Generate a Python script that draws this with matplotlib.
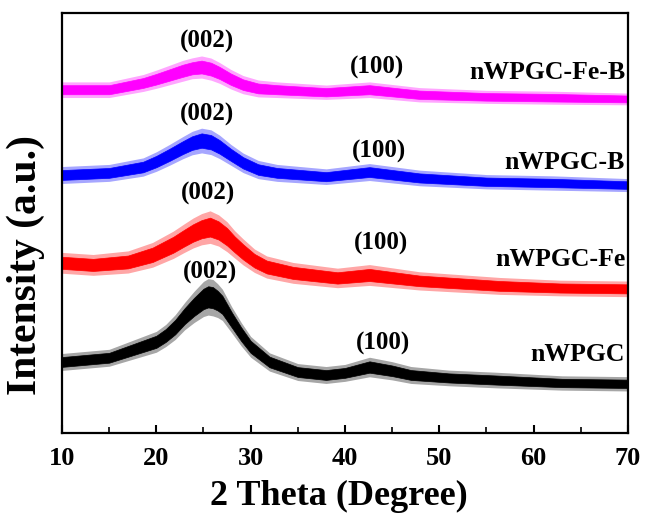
import matplotlib
matplotlib.use("Agg")
import matplotlib.pyplot as plt
import numpy as np

plt.rcParams['font.family'] = ['Liberation Serif', 'DejaVu Serif']
plt.rcParams['font.weight'] = 'bold'

# 2-theta positions (degree), intensities (a.u., offset-stacked) and noise half-widths
x_black = [10, 15, 20, 21, 22, 23, 24, 25, 25.5, 26, 26.5, 27, 28, 29, 30, 32, 35, 38, 40, 42.6, 45, 47, 51, 56, 63, 70]
y_black = [16.9, 17.9, 21.7, 23.2, 25.2, 27.8, 30.0, 31.9, 32.4, 32.2, 31.5, 30.5, 26.9, 23.5, 20.5, 16.9, 14.5, 13.8, 14.3, 15.7, 14.8, 13.8, 13.1, 12.6, 11.9, 11.7]
w_black = [1.3, 1.3, 1.6, 1.7, 1.9, 2.1, 2.4, 2.7, 2.8, 2.8, 2.6, 2.4, 2.0, 1.8, 1.6, 1.4, 1.3, 1.3, 1.3, 1.5, 1.4, 1.3, 1.2, 1.2, 1.1, 1.1]

x_red = [10, 13.3, 17, 19.6, 21.8, 22.9, 23.9, 24.8, 25.7, 26.6, 27.5, 28.3, 29.2, 30.4, 31.7, 34.5, 39.2, 42.6, 47.9, 56.4, 62.8, 70]
y_red = [40.5, 40.0, 40.7, 42.4, 44.8, 46.3, 47.6, 48.5, 49.0, 48.2, 46.7, 44.9, 43.1, 41.0, 39.5, 38.1, 36.9, 37.6, 36.2, 35.0, 34.5, 34.3]
w_red = [1.6, 1.6, 1.7, 1.9, 2.1, 2.2, 2.3, 2.4, 2.5, 2.4, 2.3, 2.1, 2.0, 1.8, 1.7, 1.6, 1.5, 1.6, 1.4, 1.3, 1.2, 1.2]

x_blue = [10, 15, 18.6, 20, 21.4, 22.8, 23.8, 24.8, 25.8, 26.7, 27.9, 29.2, 30.8, 32.8, 38, 42.6, 47.9, 55, 62, 70]
y_blue = [61.4, 61.9, 63.3, 64.6, 66.2, 67.9, 69.0, 69.6, 69.2, 68.1, 66.2, 64.3, 62.7, 61.9, 61.0, 62.1, 60.7, 59.8, 59.5, 59.0]
w_blue = [1.3, 1.3, 1.4, 1.5, 1.6, 1.7, 1.8, 1.9, 1.9, 1.8, 1.6, 1.5, 1.4, 1.3, 1.2, 1.3, 1.2, 1.1, 1.1, 1.0]

x_mag = [10, 15, 18.6, 20, 21.4, 22.8, 23.8, 24.8, 25.8, 26.7, 27.9, 29.2, 30.8, 32.8, 38, 42.6, 47.9, 55, 62, 70]
y_mag = [81.7, 81.7, 83.3, 84.2, 85.2, 86.2, 86.8, 87.1, 86.6, 85.7, 84.2, 82.9, 82.0, 81.7, 81.1, 81.7, 80.5, 80.0, 79.8, 79.5]
w_mag = [1.2, 1.2, 1.3, 1.4, 1.5, 1.6, 1.6, 1.7, 1.7, 1.6, 1.5, 1.4, 1.3, 1.2, 1.1, 1.2, 1.1, 1.0, 1.0, 0.9]

series_names = ['nWPGC', 'nWPGC-Fe', 'nWPGC-B', 'nWPGC-Fe-B']
series_colors = ['#000000', '#ff0000', '#0000ff', '#ff00ff']

# peak label positions
peak002_x = [25.7, 25.5, 25.4, 25.4]
peak002_y = [38.1, 57.1, 75.7, 93.1]
peak100_x = [44.0, 43.8, 43.6, 43.4]
peak100_y = [21.4, 45.2, 66.9, 86.9]
name_y = [18.6, 41.2, 64.3, 85.7]

fig = plt.figure(figsize=(6.46, 5.13), dpi=100)
ax = fig.add_axes([0.096, 0.156, 0.876, 0.819])

data = [(x_black, y_black, w_black), (x_red, y_red, w_red),
        (x_blue, y_blue, w_blue), (x_mag, y_mag, w_mag)]
for (xs, ys, ws), c in zip(data, series_colors):
    xs = np.array(xs); ys = np.array(ys); ws = np.array(ws)
    ax.fill_between(xs, ys - 1.55 * ws, ys + 1.55 * ws, color=c, lw=0, alpha=0.35)
    ax.fill_between(xs, ys - 0.9 * ws, ys + 0.9 * ws, color=c, lw=0.5, ec=c)

for i in range(4):
    ax.text(peak002_x[i], peak002_y[i], '(002)', ha='center', va='center',
            fontsize=18, fontweight='bold')
    ax.text(peak100_x[i], peak100_y[i], '(100)', ha='center', va='center',
            fontsize=18, fontweight='bold')
    ax.text(69.7, name_y[i], series_names[i], ha='right', va='center',
            fontsize=18.5, fontweight='bold')

ax.set_xlim(10, 70)
ax.set_ylim(0, 100)
ax.set_yticks([])
ax.set_xticks([10, 20, 30, 40, 50, 60, 70])
ax.set_xticks(np.arange(15, 70, 10), minor=True)
ax.tick_params(axis='x', which='major', direction='in', length=6, width=1.5,
               labelsize=19, pad=10)
ax.tick_params(axis='x', which='minor', direction='in', length=4, width=1.2)
for lab in ax.get_xticklabels():
    lab.set_fontweight('bold')
for s in ax.spines.values():
    s.set_linewidth(1.6)

ax.set_xlabel('2 Theta (Degree)', fontsize=26, fontweight='bold')
ax.xaxis.set_label_coords(0.489, -0.112)
ax.set_ylabel('Intensity (a.u.)', fontsize=30, fontweight='bold')
ax.yaxis.set_label_coords(-0.03, 0.40)

fig.savefig('out.png', dpi=100)
